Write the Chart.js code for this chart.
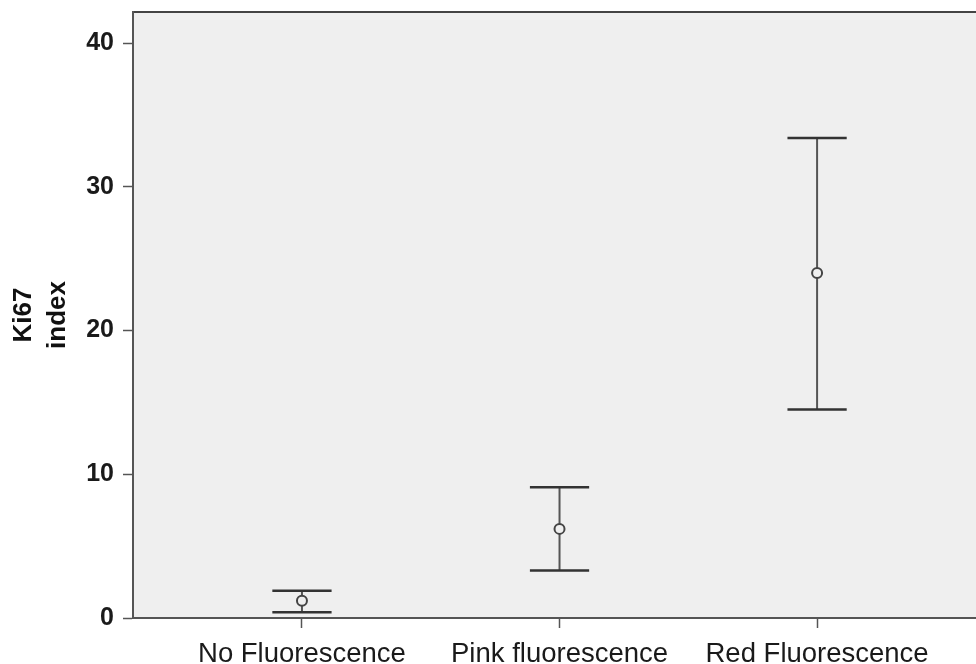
<!DOCTYPE html>
<html>
<head>
<meta charset="utf-8">
<script src="https://cdn.jsdelivr.net/npm/chart.js@4.4.1/dist/chart.umd.min.js"></script>
<style>
  body { margin: 0; background: #fff; }
  #wrap { width: 976px; height: 664px; position: relative; }
</style>
</head>
<body>
<div id="wrap"><canvas id="kiChart"></canvas></div>
<script>
// groups and Ki67 values (mean with error bar ends)
const groups = ['No Fluorescence', 'Pink fluorescence', 'Red Fluorescence'];
const groupPos = [1, 2, 3];
const means = [1.2, 6.2, 24.0];
const lower = [0.4, 3.3, 14.5];
const upper = [1.9, 9.1, 33.4];
const yTicks = [0, 10, 20, 30, 40];

const axisColor = '#555';

// grey plot background + top frame line
const plotBackground = {
  id: 'plotBackground',
  beforeDraw(chart) {
    const { ctx, chartArea } = chart;
    ctx.save();
    ctx.fillStyle = '#efefef';
    ctx.fillRect(chartArea.left, chartArea.top, chartArea.right - chartArea.left, chartArea.bottom - chartArea.top);
    ctx.strokeStyle = '#444';
    ctx.lineWidth = 2;
    ctx.beginPath();
    ctx.moveTo(chartArea.left, chartArea.top);
    ctx.lineTo(chartArea.right, chartArea.top);
    ctx.stroke();
    ctx.restore();
  }
};

// whiskers drawn through the chart's scales
const errorBars = {
  id: 'errorBars',
  beforeDatasetsDraw(chart) {
    const { ctx, scales } = chart;
    const x = scales.x, y = scales.y;
    ctx.save();
    groupPos.forEach((g, i) => {
      const cx = x.getPixelForValue(g);
      const half = x.getPixelForValue(g + 0.115) - cx;
      const yl = y.getPixelForValue(lower[i]);
      const yu = y.getPixelForValue(upper[i]);
      ctx.lineWidth = 2;
      ctx.strokeStyle = '#555';
      ctx.beginPath();
      ctx.moveTo(cx, yl);
      ctx.lineTo(cx, yu);
      ctx.stroke();
      ctx.lineWidth = 2.5;
      ctx.strokeStyle = '#333';
      ctx.beginPath();
      ctx.moveTo(cx - half, yu);
      ctx.lineTo(cx + half, yu);
      ctx.moveTo(cx - half, yl);
      ctx.lineTo(cx + half, yl);
      ctx.stroke();
    });
    ctx.restore();
  }
};

new Chart(document.getElementById('kiChart'), {
  type: 'scatter',
  data: {
    datasets: [{
      data: groupPos.map((g, i) => ({ x: g, y: means[i] })),
      pointStyle: 'circle',
      pointRadius: 5,
      pointBorderWidth: 2,
      pointBorderColor: '#444',
      pointBackgroundColor: '#efefef',
      showLine: false
    }]
  },
  options: {
    responsive: true,
    maintainAspectRatio: false,
    animation: false,
    layout: { autoPadding: false, padding: { top: 12, right: 0, left: 0, bottom: 0 } },
    plugins: {
      legend: { display: false },
      tooltip: { enabled: false }
    },
    scales: {
      x: {
        type: 'linear',
        min: 0.344,
        max: 3.617,
        afterBuildTicks(scale) {
          scale.ticks = groupPos.map(v => ({ value: v }));
        },
        afterFit(scale) {
          scale.height = 46;
          scale.paddingLeft = 0;
          scale.paddingRight = 0;
        },
        border: { color: axisColor, width: 2 },
        grid: { drawOnChartArea: false, tickLength: 10, tickColor: axisColor, tickWidth: 1.5 },
        ticks: {
          autoSkip: false,
          maxRotation: 0,
          padding: 10,
          color: '#1a1a1a',
          font: { family: 'Liberation Sans, Arial, sans-serif', size: 27.5 },
          callback: (v) => groups[groupPos.indexOf(v)]
        }
      },
      y: {
        min: 0,
        max: 42.16,
        afterBuildTicks(scale) {
          scale.ticks = yTicks.map(v => ({ value: v }));
        },
        afterFit(scale) {
          scale.width = 133;
          scale.paddingTop = 0;
          scale.paddingBottom = 0;
        },
        border: { color: axisColor, width: 2 },
        grid: { drawOnChartArea: false, tickLength: 10, tickColor: axisColor, tickWidth: 1.5 },
        ticks: {
          padding: 9,
          color: '#1a1a1a',
          font: { family: 'Liberation Sans, Arial, sans-serif', size: 25, weight: 'bold' }
        },
        title: {
          display: true,
          text: ['Ki67', 'index'],
          color: '#111',
          padding: { top: 7 },
          font: { family: 'Liberation Sans, Arial, sans-serif', size: 26, weight: 'bold', lineHeight: 1.3 }
        }
      }
    }
  },
  plugins: [plotBackground, errorBars]
});
</script>
</body>
</html>
